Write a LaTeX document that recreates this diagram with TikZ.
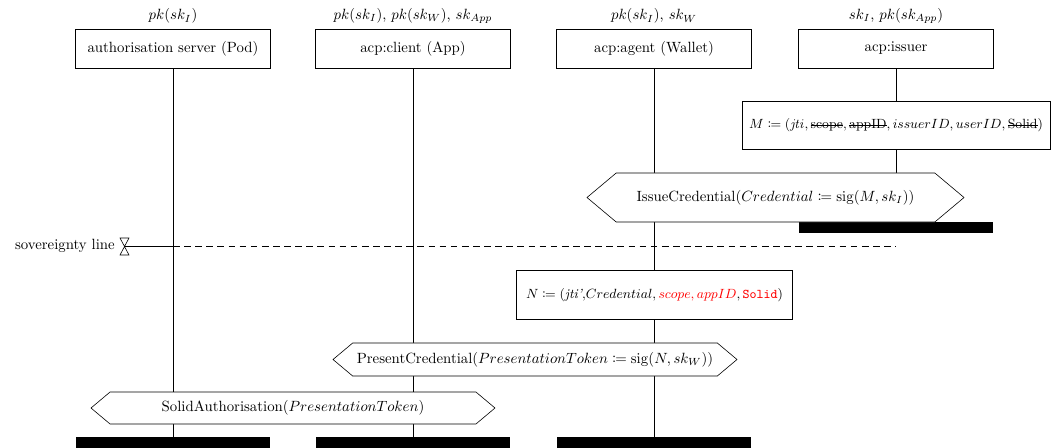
\documentclass[tikz,border=0pt]{standalone}
\usepackage{tikz}
\usepackage{xcolor}
\usepackage{amsmath}
\usepackage{amssymb}
\usepackage{mathtools}
\usetikzlibrary{shapes.symbols}
\newcommand{\strikeit}[1]{\begingroup\setbox0\hbox{#1}\rlap{\rule[0.55ex]{\wd0}{0.4pt}}\box0\endgroup}

\begin{document}
\begin{tikzpicture}[x=0.675pt,y=-0.675pt,
  inst/.style={draw,minimum width=131.6pt,minimum height=26.3pt},
  instend/.style={fill=black,inner sep=0pt,minimum width=131pt,minimum height=7.4pt},
  action/.style={draw,fill=white,font=\small,inner sep=0pt},
  msg/.style={draw,fill=white,signal,signal to=east and west,signal pointer angle=80,inner sep=0pt},
  sovline/.style={dash pattern=on 4.5pt off 3pt}]
\useasboundingbox (0,0) rectangle (1057,447);

\node[inst] (pod) at (173,48.5) {authorisation server (Pod)};
\node[inst] (app) at (413,48.5) {acp:client (App)};
\node[inst] (wallet) at (654,48.5) {acp:agent (Wallet)};
\node[inst] (issuer) at (896,48.5) {acp:issuer};

\node[above] at (pod.north) {$pk(sk_I)$};
\node[above] at (app.north) {$pk(sk_I)$, $pk(sk_W)$, $sk_{App}$};
\node[above] at (wallet.north) {$pk(sk_I)$, $sk_W$};
\node[above] at (issuer.north) {$sk_I$, $pk(sk_{App})$};

\node[action,minimum width=207.9pt,minimum height=32.4pt] (mdef) at (896,125) {$M \coloneqq (\mathit{jti}, \text{\strikeit{scope}}, \text{\strikeit{appID}}, issuerID, userID, \text{\strikeit{Solid}})$};
\node[instend] (issuerend) at (896,227.5) {};

\node[instend] (podend) at (173,442.5) {};
\node[instend] (append) at (413,442.5) {};
\node[instend] (walletend) at (654,442.5) {};

% lifelines
\draw (pod) -- (podend);
\draw (app) -- (append);
\draw (wallet) -- (walletend);
\draw (issuer) -- (mdef);
\draw (mdef) -- (issuerend);

% sovereignty line
\coordinate (sov) at (124.5,246);
\draw (120,238) -- (129,238) -- (120,255) -- (129,255) -- cycle;
\node[left] at (120,246) {sovereignty line};
\draw (sov) -- (sov -| pod);
\draw[sovline] (sov -| pod) -- (sov -| issuer);

\node[msg,minimum width=254.5pt,minimum height=33.1pt] (issue) at (775.5,197.5) {IssueCredential($Credential \coloneqq \mathrm{sig}(M, sk_I)$)};

\node[action,minimum width=186.3pt,minimum height=33.1pt] (ndef) at (654.5,295) {$N \coloneqq ($\textit{jti'},$Credential, \textcolor{red}{scope, appID}, \textcolor{red}{\texttt{Solid}})$};

\node[msg,minimum width=272.7pt,minimum height=22.3pt] (present) at (535,359.5) {PresentCredential($PresentationToken \coloneqq \mathrm{sig}(N, sk_W)$)};
\node[msg,minimum width=272.7pt,minimum height=21.6pt] (solidauth) at (293,408) {SolidAuthorisation($PresentationToken$)};
\end{tikzpicture}
\end{document}
